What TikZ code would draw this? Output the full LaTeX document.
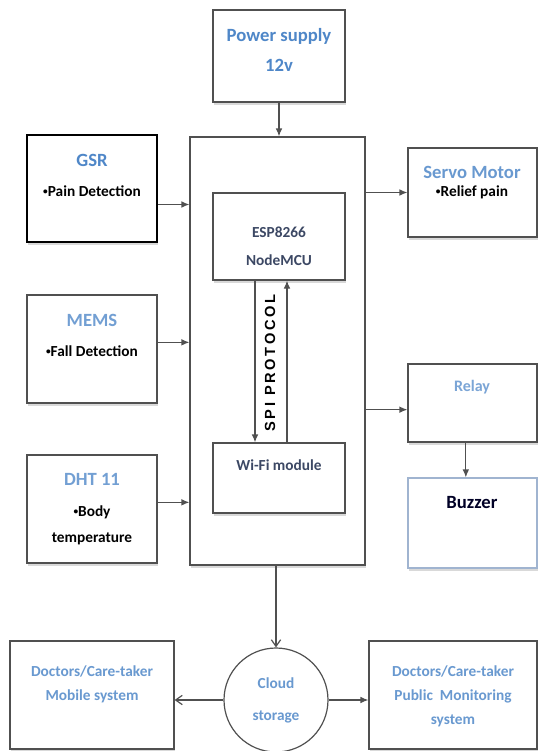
\documentclass[tikz,border=0pt]{standalone}
\usepackage{fontspec}
\setmainfont{Carlito}
\newfontfamily\spifont{Liberation Sans}[LetterSpace=18]
\usetikzlibrary{fit,shadows,arrows.meta}
\definecolor{linegray}{RGB}{80,80,80}
\definecolor{titleblue}{RGB}{79,135,200}
\definecolor{mcutext}{RGB}{60,72,100}
\definecolor{buzzline}{RGB}{160,180,208}
\newcommand{\dotb}{{\fontsize{7}{7}\selectfont\raisebox{0.35ex}{•}}}
\begin{document}
\begin{tikzpicture}[x=0.75pt,y=-0.75pt,
    box/.style={draw=linegray, line width=0.9pt, fill=white, inner sep=0pt,
      drop shadow={shadow xshift=1pt, shadow yshift=-2pt, opacity=0.3}},
    title/.style={font=\fontsize{14}{16}\bfseries, text=titleblue, align=center},
    body/.style={font=\fontsize{11.5}{19.5}\bfseries, text=black, align=center},
    mcutxt/.style={font=\fontsize{11.5}{21}\bfseries, text=mcutext, align=center},
    lowtxt/.style={font=\fontsize{11.5}{18}\bfseries, text=titleblue!85, align=center},
    conn/.style={draw=linegray, line width=0.9pt},
    tip/.style={-{Latex[length=6pt,width=5pt]}},
    opentip/.style={-{Straight Barb[length=5pt,width=7pt]}}]
  \useasboundingbox (0,0) rectangle (539,751); % bordi della figura
  \node[box, fit={(213,10) (345,102)}] (power) {}; % alimentazione
  \node[title, font=\fontsize{14}{22}\bfseries] (power-t) at (279,50) {Power supply\\12v};
  \node[box, fit={(190,137) (365,565)}] (main) {}; % scheda principale
  \node[box, line width=1.5pt, draw=black, fit={(27,135) (157,242)}] (gsr) {}; % sensori
  \node[title] (gsr-t) at (92,160) {GSR};
  \node[body] (gsr-b) at (92,191) {\dotb Pain Detection};
  \node[box, fit={(27,295) (157,403)}] (mems) {};
  \node[title, text=titleblue!80] (mems-t) at (92,320) {MEMS};
  \node[body] (mems-b) at (92,351) {\dotb Fall Detection};
  \node[box, fit={(27,455) (157,563)}] (dht) {};
  \node[title, text=titleblue!80] (dht-t) at (92,479) {DHT 11};
  \node[body] (dht-b) at (92,525) {\dotb Body\\temperature};
  \node[box, fit={(213,193) (345,280)}] (esp) {}; % microcontrollore
  \node[mcutxt] (esp-t) at (279,246) {ESP8266\\NodeMCU};
  \node[box, fit={(213,443) (345,513)}] (wifi) {};
  \node[mcutxt] (wifi-t) at (279,465) {Wi-Fi module};
  \node[font=\spifont\fontsize{11}{12}\bfseries, rotate=90] (spi) at (270,363) {SPI PROTOCOL};
  \node[box, fit={(408,148) (537,237)}] (servo) {}; % attuatori
  \node[title, text=titleblue!85] (servo-t) at (472,172) {Servo Motor};
  \node[body] (servo-b) at (472,192) {\dotb Relief pain};
  \node[box, fit={(408,364) (537,442)}] (relay) {};
  \node[title, font=\fontsize{12}{14}\bfseries, text=titleblue!75] (relay-t) at (472,387) {Relay};
  \node[box, draw=buzzline, fit={(408,478) (537,568)}] (buzzer) {};
  \node[title, text=black!85!blue] (buzzer-t) at (472,503) {Buzzer};
  \node[draw=linegray, line width=0.9pt, fill=white, circle, minimum size=78pt] (cloud) at (276,700) {}; % cloud
  \node[lowtxt, font=\fontsize{11.5}{24}\bfseries] (cloud-t) at (276,700) {Cloud\\storage};
  \node[box, fit={(10,641) (174,749)}] (mobile) {};
  \node[lowtxt] (mobile-t) at (92,684) {Doctors/Care-taker\\Mobile system};
  \node[box, fit={(369,641) (537,749)}] (public) {};
  \node[lowtxt] (public-t) at (453,696) {Doctors/Care-taker\\Public\ \ Monitoring\\system};
  \draw[conn, tip] (power.south) -- (power.south |- main.north); % frecce
  \draw[conn, tip] ([yshift=-12pt]gsr.east) -- ([yshift=-12pt]gsr.east -| main.west);
  \draw[conn, tip] ([yshift=5pt]mems.east) -- ([yshift=5pt]mems.east -| main.west);
  \draw[conn, tip] ([yshift=5pt]dht.east) -- ([yshift=5pt]dht.east -| main.west);
  \draw[conn, tip] (servo.west -| main.east) -- (servo.west);
  \draw[conn, tip] ([yshift=-5pt]relay.west -| main.east) -- ([yshift=-5pt]relay.west);
  \draw[conn, tip] ([xshift=-5pt]relay.south) -- ([xshift=-5pt]relay.south |- buzzer.north);
  \draw[conn, tip] ([xshift=-18pt]esp.south) -- ([xshift=-18pt]esp.south |- wifi.north);
  \draw[conn, tip] ([xshift=6pt]wifi.north) -- ([xshift=6pt]wifi.north |- esp.south);
  \draw[conn, opentip] (cloud.north |- main.south) -- (cloud.north);
  \draw[conn, opentip] (cloud.west) -- (cloud.west -| mobile.east);
  \draw[conn, tip] (cloud.east) -- (cloud.east -| public.west);
\end{tikzpicture}
\end{document}
